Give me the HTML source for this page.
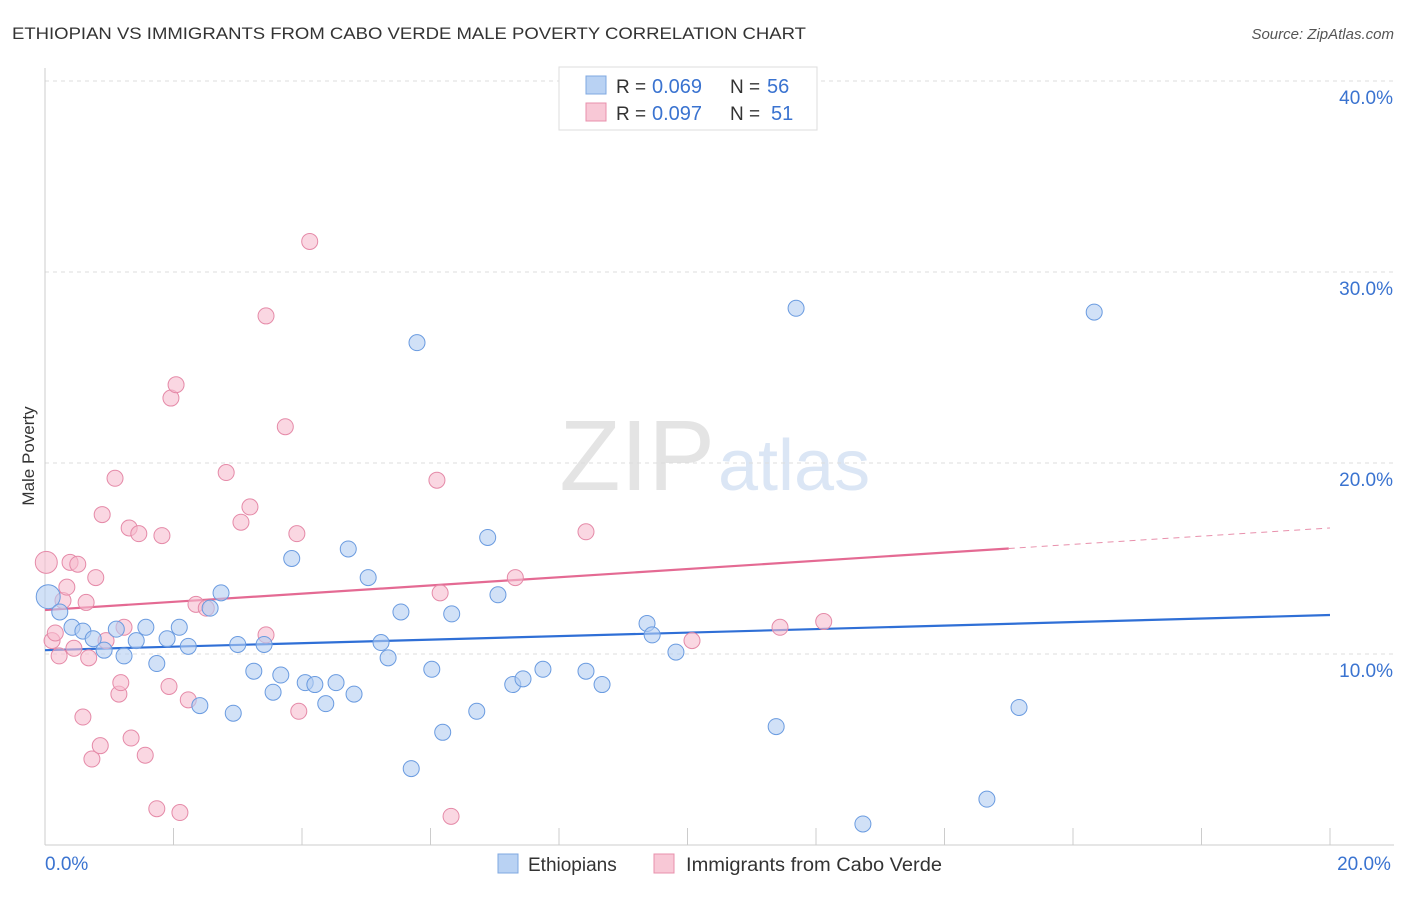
<!DOCTYPE html>
<html><head><meta charset="utf-8"><style>
body{margin:0;background:#fff;font-family:"Liberation Sans",sans-serif;}
svg text{font-family:"Liberation Sans",sans-serif;}
</style></head><body>
<svg id="c" width="1406" height="892">
<text x="12" y="39" font-size="17" fill="#333" textLength="794" lengthAdjust="spacingAndGlyphs">ETHIOPIAN VS IMMIGRANTS FROM CABO VERDE MALE POVERTY CORRELATION CHART</text>
<text x="1394" y="39" font-size="15" fill="#555" font-style="italic" text-anchor="end">Source: ZipAtlas.com</text>
<text x="34" y="456" font-size="17" fill="#333" transform="rotate(-90 34 456)" text-anchor="middle">Male Poverty</text>
<text x="715" y="490" font-size="100" fill="#e4e4e4" text-anchor="end" font-family="Liberation Serif">ZIP</text>
<text x="718" y="490" font-size="72" fill="#dbe6f5">atlas</text>
<g id="grid"></g><g id="trend"></g><g id="pts"></g>
<g>
<rect x="559" y="67" width="258" height="63" fill="#fff" stroke="#ddd"/>
<rect x="586" y="76" width="20" height="18" fill="#b9d2f3" stroke="#7fa8e0"/>
<text x="616" y="93" font-size="19" fill="#333">R =</text><text x="652" y="93" font-size="20" fill="#3a73d0">0.069</text>
<text x="730" y="93" font-size="19" fill="#333">N =</text><text x="767" y="93" font-size="20" fill="#3a73d0">56</text>
<rect x="586" y="103" width="20" height="18" fill="#f8c8d6" stroke="#e890ac"/>
<text x="616" y="120" font-size="19" fill="#333">R =</text><text x="652" y="120" font-size="20" fill="#3a73d0">0.097</text>
<text x="730" y="120" font-size="19" fill="#333">N =</text><text x="771" y="120" font-size="20" fill="#3a73d0">51</text>
</g>
<g>
<rect x="498" y="854" width="20" height="19" fill="#b9d2f3" stroke="#7fa8e0"/>
<text x="528" y="871" font-size="19" fill="#333">Ethiopians</text>
<rect x="654" y="854" width="20" height="19" fill="#f8c8d6" stroke="#e890ac"/>
<text x="686" y="871" font-size="19" fill="#333" textLength="256" lengthAdjust="spacingAndGlyphs">Immigrants from Cabo Verde</text>
</g>
</svg>
<script>
const blueX=[0.05,0.23,0.42,0.59,0.75,0.92,1.11,1.23,1.42,1.57,1.74,1.90,2.09,2.23,2.41,2.57,2.74,2.93,3.00,3.25,3.41,3.55,3.67,3.84,4.05,4.20,4.37,4.53,4.72,4.81,5.03,5.23,5.34,5.54,5.70,5.79,6.02,6.19,6.33,6.72,6.89,7.05,7.28,7.44,7.75,8.42,8.67,9.37,9.45,9.82,11.38,11.69,12.73,14.66,15.16,16.33];
const blueY=[13.0,12.2,11.4,11.2,10.8,10.2,11.3,9.9,10.7,11.4,9.5,10.8,11.4,10.4,7.3,12.4,13.2,6.9,10.5,9.1,10.5,8.0,8.9,15.0,8.5,8.4,7.4,8.5,15.5,7.9,14.0,10.6,9.8,12.2,4.0,26.3,9.2,5.9,12.1,7.0,16.1,13.1,8.4,8.7,9.2,9.1,8.4,11.6,11.0,10.1,6.2,28.1,1.1,2.4,7.2,27.9];
const pinkX=[0.02,0.11,0.16,0.22,0.28,0.34,0.39,0.45,0.51,0.59,0.64,0.68,0.73,0.79,0.86,0.89,0.95,1.09,1.15,1.18,1.23,1.31,1.34,1.46,1.56,1.74,1.82,1.93,1.96,2.04,2.10,2.23,2.35,2.51,2.82,3.05,3.19,3.44,3.44,3.74,3.92,3.95,4.12,6.10,6.15,6.32,7.32,8.42,10.07,11.44,12.12];
const pinkY=[14.8,10.7,11.1,9.9,12.8,13.5,14.8,10.3,14.7,6.7,12.7,9.8,4.5,14.0,5.2,17.3,10.7,19.2,7.9,8.5,11.4,16.6,5.6,16.3,4.7,1.9,16.2,8.3,23.4,24.1,1.7,7.6,12.6,12.4,19.5,16.9,17.7,27.7,11.0,21.9,16.3,7.0,31.6,19.1,13.2,1.5,14.0,16.4,10.7,11.4,11.7];
const yTicks=[10,20,30,40];
const xTickVals=[0,2,4,6,8,10,12,14,16,18,20];
const blueTrend=[10.2,12.04];
const pinkTrend=[12.3,16.6];
const pinkSolidEnd=15;
const NS="http://www.w3.org/2000/svg";
const X=v=>45+v*64.25, Y=v=>845-v*19.1;
function mk(g,t,a){const e=document.createElementNS(NS,t);for(const k in a)e.setAttribute(k,a[k]);document.getElementById(g).appendChild(e);return e;}
yTicks.forEach(t=>{
 const l=mk('grid','line',{x1:45,x2:1394,y1:Y(t),y2:Y(t),stroke:'#ddd','stroke-dasharray':'4,4'});
 
 
 const tx=mk('grid','text',{x:1393,y:Y(t)+23,'font-size':19,fill:'#3a73d0','text-anchor':'end'});tx.textContent=t.toFixed(1)+'%';
 
 
});
mk('grid','line',{x1:45,x2:45,y1:68,y2:845,stroke:'#ccc'});
mk('grid','line',{x1:45,x2:1394,y1:845,y2:845,stroke:'#ccc'});
xTickVals.forEach(t=>{
 const l=mk('grid','line',{x1:X(t),x2:X(t),y1:828,y2:845,stroke:'#ccc'});
 
 
});
[[0,'start'],[20,'middle']].forEach(([t,a])=>{
 const tx=mk('grid','text',{x:t==0?45:1364,y:870,'font-size':19,fill:'#3a73d0','text-anchor':a});tx.textContent=t.toFixed(1)+'%';
 
 
});
let ln=mk('trend','line',{x1:X(0),y1:Y(blueTrend[0]),x2:X(20),y2:Y(blueTrend[1]),stroke:'#2f6fd6','stroke-width':2.2});


const pe=pinkTrend[0]+(pinkTrend[1]-pinkTrend[0])*pinkSolidEnd/20;
ln=mk('trend','line',{x1:X(0),y1:Y(pinkTrend[0]),x2:X(pinkSolidEnd),y2:Y(pe),stroke:'#e46a93','stroke-width':2.2});


ln=mk('trend','line',{x1:X(pinkSolidEnd),y1:Y(pe),x2:X(20),y2:Y(pinkTrend[1]),stroke:'#e890ac','stroke-width':1,'stroke-dasharray':'6,5'});


function pts(xs,ys,fill,stroke,name,big){xs.forEach((x,i)=>{
 const c=mk('pts','circle',{cx:X(x),cy:Y(ys[i]),r:i==0?big:8,fill:fill,'fill-opacity':0.6,stroke:stroke,'stroke-width':1});
 
 
});}
pts(pinkX,pinkY,'#f6bccf','#e58aa8','cabo-verde-point',11);
pts(blueX,blueY,'#b3cdf1','#6a9be0','ethiopian-point',12);
</script>
</body></html>
